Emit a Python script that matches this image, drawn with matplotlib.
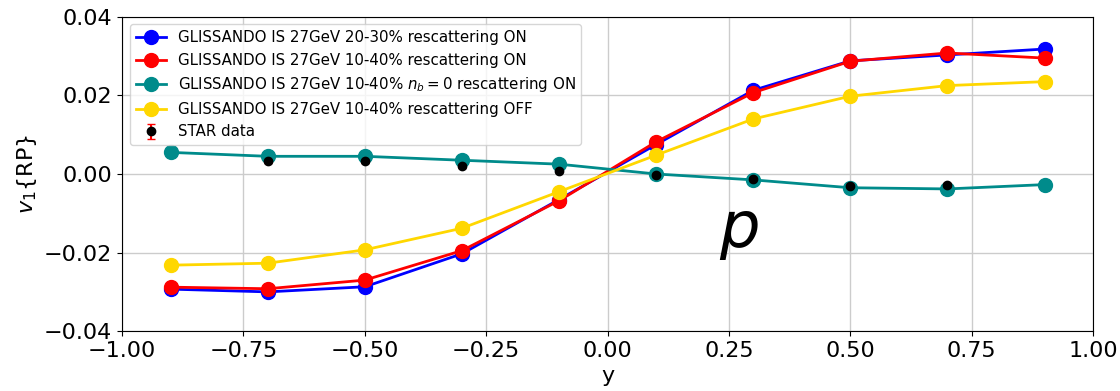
import numpy as np
import matplotlib.pyplot as plt

y_pts = [-0.9, -0.7, -0.5, -0.3, -0.1, 0.1, 0.3, 0.5, 0.7, 0.9]

v1_2030_on = [-0.0293, -0.0300, -0.0287, -0.0203, -0.0065, 0.0075, 0.0213, 0.0288, 0.0303, 0.0318]
v1_1040_on = [-0.0288, -0.0292, -0.0270, -0.0195, -0.0068, 0.0082, 0.0207, 0.0287, 0.0308, 0.0295]
v1_nb0_on = [0.0055, 0.0045, 0.0045, 0.0035, 0.0025, 0.0000, -0.0015, -0.0035, -0.0038, -0.0027]
v1_1040_off = [-0.0232, -0.0227, -0.0193, -0.0138, -0.0045, 0.0048, 0.0140, 0.0198, 0.0225, 0.0235]

star_y = [-0.7, -0.5, -0.3, -0.1, 0.1, 0.3, 0.5, 0.7]
star_v1 = [0.0032, 0.0032, 0.0020, 0.0008, -0.0002, -0.0012, -0.0030, -0.0028]
star_err = [0.0004, 0.0004, 0.0004, 0.0004, 0.0004, 0.0004, 0.0004, 0.0004]

fig = plt.figure(figsize=(11.2, 3.91), dpi=100)
ax = fig.add_axes([0.109, 0.153, 0.867, 0.804])

ax.plot(y_pts, v1_2030_on, 'o-', color='blue', lw=2, ms=10,
        label='GLISSANDO IS 27GeV 20-30% rescattering ON')
ax.plot(y_pts, v1_1040_on, 'o-', color='red', lw=2, ms=10,
        label='GLISSANDO IS 27GeV 10-40% rescattering ON')
ax.plot(y_pts, v1_nb0_on, 'o-', color='#008b8b', lw=2, ms=10,
        label=r'GLISSANDO IS 27GeV 10-40% $n_b = 0$ rescattering ON')
ax.plot(y_pts, v1_1040_off, 'o-', color='gold', lw=2, ms=10,
        label='GLISSANDO IS 27GeV 10-40% rescattering OFF')
ax.errorbar(star_y, star_v1, yerr=star_err, fmt='o', color='black', ms=6,
            ecolor='red', capsize=3, label='STAR data')

ax.text(0.27, -0.0145, r'$p$', fontsize=46, ha='center', va='center')

ax.set_xlim(-1, 1)
ax.set_ylim(-0.04, 0.04)
ax.set_yticks([-0.04, -0.02, 0.0, 0.02, 0.04])
ax.grid(True, color='#cccccc', lw=1)
ax.tick_params(labelsize=16)
ax.set_xlabel('y', fontsize=16)
ax.set_ylabel(r'$v_1\{\mathrm{RP}\}$', fontsize=16)
ax.legend(loc='upper left', fontsize=10.8)

fig.savefig('out.png', dpi=100)
